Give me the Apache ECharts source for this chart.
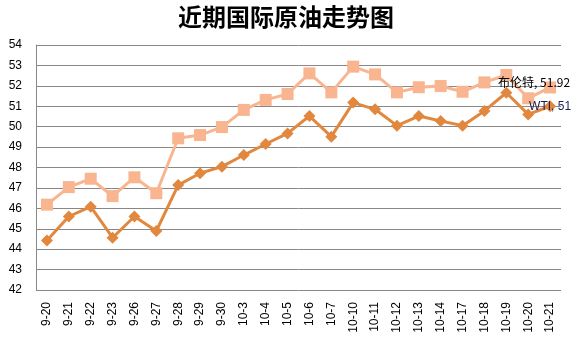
<!DOCTYPE html>
<html>
<head>
<meta charset="utf-8">
<script src="https://cdn.jsdelivr.net/npm/echarts@6/dist/echarts.min.js"></script>
<style>
  html, body { margin: 0; padding: 0; background: #fff; }
  #chart { width: 572px; height: 337px; }
</style>
</head>
<body>
<div id="chart"></div>
<script>
// Trading dates
const dates = ['9-20','9-21','9-22','9-23','9-26','9-27','9-28','9-29','9-30','10-3','10-4','10-5',
  '10-6','10-7','10-10','10-11','10-12','10-13','10-14','10-17','10-18','10-19','10-20','10-21'];

// Brent crude price (USD/bbl)
const brent = [46.18, 47.04, 47.45, 46.60, 47.52, 46.74, 49.43, 49.59, 49.98, 50.82, 51.31, 51.60,
  52.61, 51.68, 52.94, 52.56, 51.68, 51.93, 51.99, 51.71, 52.17, 52.53, 51.39, 51.92];

// WTI crude price (USD/bbl)
const wti = [44.42, 45.60, 46.08, 44.56, 45.60, 44.89, 47.14, 47.72, 48.04, 48.61, 49.15, 49.67,
  50.52, 49.51, 51.18, 50.85, 50.05, 50.52, 50.28, 50.05, 50.77, 51.66, 50.60, 51.00];

// Y axis range
const yMin = 42, yMax = 54, yStep = 1;

const chart = echarts.init(document.getElementById('chart'));
const last = dates.length - 1;

chart.setOption({
  animation: false,
  title: {
    text: '近期国际原油走势图',
    left: 'center',
    top: 0,
    textStyle: { fontFamily: 'Noto Sans CJK SC', fontSize: 24, fontWeight: 'bold', color: '#000' }
  },
  grid: { left: 36, right: 11, top: 45, bottom: 47 },
  xAxis: {
    type: 'category',
    data: dates,
    boundaryGap: true,
    axisLine: { show: false },
    axisTick: { show: false },
    axisLabel: { rotate: 90, fontFamily: 'Arial, Liberation Sans', fontSize: 12, color: '#000', margin: 12, interval: 0 }
  },
  yAxis: {
    type: 'value',
    min: yMin, max: yMax, interval: yStep,
    axisLine: { show: true, lineStyle: { color: '#888' } },
    axisTick: { show: false },
    axisLabel: { fontFamily: 'Arial, Liberation Sans', fontSize: 12, color: '#000', margin: 14 },
    splitLine: { lineStyle: { color: '#888', width: 1 } }
  },
  series: [
    {
      name: '布伦特',
      type: 'line',
      data: brent.map((v, i) => i === last
        ? { value: v, label: { show: true, formatter: '布伦特, ' + v, position: 'top', offset: [-16, 12] } }
        : v),
      symbol: 'rect',
      symbolSize: 12,
      lineStyle: { color: '#F9B590', width: 3 },
      itemStyle: { color: '#F9B590' },
      label: { fontFamily: 'Noto Sans CJK SC', fontSize: 12, color: '#000' },
      z: 2
    },
    {
      name: 'WTI',
      type: 'line',
      data: wti.map((v, i) => i === last
        ? { value: v, label: { show: true, formatter: 'WTI, ' + v, position: 'inside', offset: [0, 0] } }
        : v),
      symbol: 'diamond',
      symbolSize: 12,
      lineStyle: { color: '#E2873E', width: 3 },
      itemStyle: { color: '#E2873E' },
      label: { fontFamily: 'Arial, Liberation Sans', fontSize: 12, color: '#1F2050' },
      z: 3
    }
  ]
});
</script>
</body>
</html>
